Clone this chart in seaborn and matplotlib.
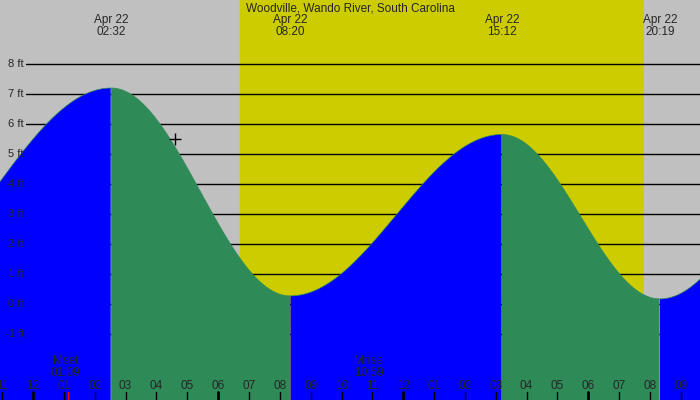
import numpy as np
import matplotlib
matplotlib.use("Agg")
import matplotlib.pyplot as plt
import seaborn as sns
import pandas as pd

title = "Woodville, Wando River, South Carolina"
# extremes: hours from midnight Apr 22, height ft
ext_hours = [-5.0, 2.533, 8.333, 15.2, 20.317, 26.6]
ext_heights = [0.5, 7.2, 0.27, 5.65, 0.17, 6.6]
top_labels = ["02:32", "08:20", "15:12", "20:19"]
top_label_hours = [2.533, 8.333, 15.2, 20.317]
sunrise, sunset = 6.7, 19.8
moon_names = ["Mset", "Mrise"]
moon_hours = [1.15, 10.983]
hour_ticks = list(range(-1, 22))
marker_hour, marker_ft = 4.6, 5.5

sns.set_style("white")
plt.rcParams['font.family'] = ['Liberation Sans', 'DejaVu Sans']

fig = plt.figure(figsize=(7, 4), dpi=100)
ax = fig.add_axes([0, 0, 1, 1])
x0 = -33 / 30.85
x1 = x0 + 700 / 30.85
ax.axvspan(x0, sunrise, color="#c0c0c0", zorder=0)
ax.axvspan(sunrise, sunset, color="#cccc00", zorder=0)
ax.axvspan(sunset, x1, color="#c0c0c0", zorder=0)

for ft in range(-1, 9):
    ax.plot([x0 + 26 / 30.85, x1], [ft, ft], color="black", lw=1, zorder=1)
    ax.text(x0 + 24 / 30.85, ft, f"{ft} ft", ha="right", va="center", fontsize=8, zorder=5)

t = np.linspace(x0, x1, 1500)
h = np.zeros_like(t)
for i in range(len(ext_hours) - 1):
    a, b = ext_hours[i], ext_hours[i + 1]
    m = (t >= a) & (t <= b)
    f = (1 - np.cos(np.pi * (t[m] - a) / (b - a))) / 2
    h[m] = ext_heights[i] + (ext_heights[i + 1] - ext_heights[i]) * f
rising = np.gradient(h) > 0
df = pd.DataFrame({"t": t, "h": h})
ax.fill_between(t, -3.2, h, where=rising, color="#0000ff", zorder=2, lw=0)
ax.fill_between(t, -3.2, h, where=~rising, color="#2e8b57", zorder=2, lw=0)
sns.lineplot(data=df, x="t", y="h", ax=ax, color="#2e8b57", lw=0.5, zorder=2, legend=False)
ax.set_xlim(x0, x1); ax.set_ylim(-3.2, 400 / 30 - 3.2)
ax.axis("off")

ax.plot(marker_hour, marker_ft, marker="+", color="black", ms=8, zorder=6)

ax.text((x0 + x1) / 2, 10.13 - 8 / 30, title, ha="center", va="center", fontsize=8.5)
for hr, lab in zip(top_label_hours, top_labels):
    ax.text(hr, 10.13 - 26 / 30, "Apr 22\n" + lab, ha="center", va="center", fontsize=8.5, linespacing=0.95)
for hr, nm in zip(moon_hours, moon_names):
    hh = int(hr); mm = round((hr - hh) * 60)
    ax.text(hr - 0.1, -3.2 + 33 / 30, f"{nm}\n{hh:02d}:{mm:02d}", ha="center", va="center",
            fontsize=8.5, linespacing=0.95, zorder=5)
    ax.plot([hr, hr], [-3.2, -3.2 + 8 / 30], color="red", lw=1, zorder=6)
for hr in hour_ticks:
    lab = (hr % 12) or 12
    ax.text(hr, -3.2 + 14 / 30, f"{lab:02d}", ha="center", va="center", fontsize=8.5, zorder=5)
    lw = 2 if hr % 6 == 0 else 1
    ax.plot([hr, hr], [-3.2, -3.2 + 8 / 30], color="black", lw=lw, zorder=6)

fig.savefig("out.png", dpi=100)
